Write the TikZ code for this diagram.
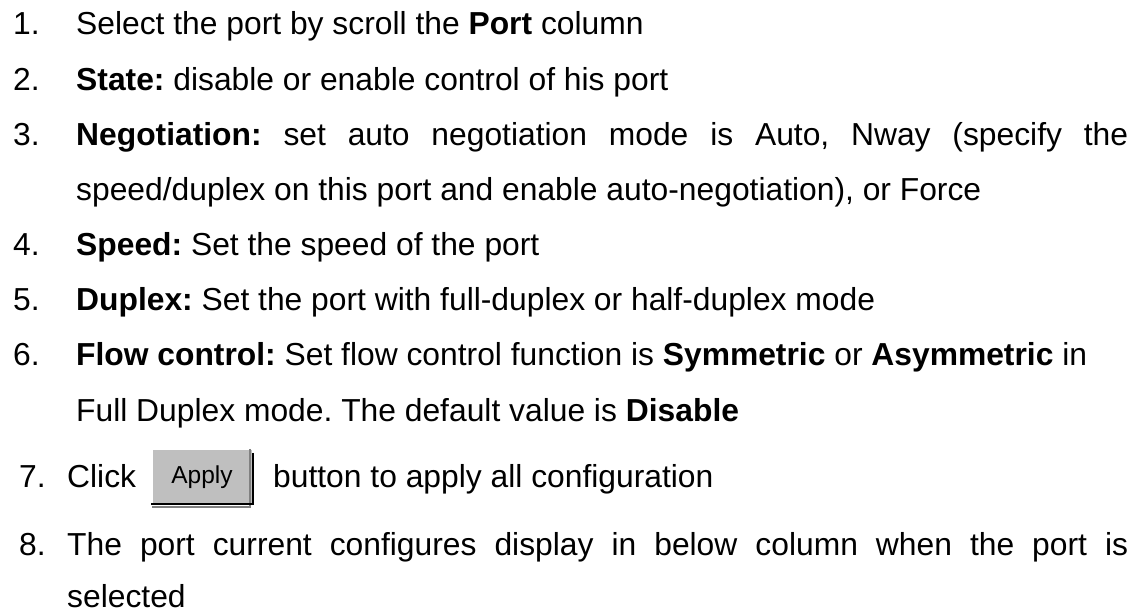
\documentclass[tikz,border=0pt]{standalone}
\usepackage{fontspec}
\setmainfont{Liberation Sans}
\frenchspacing
\begin{document}
\begin{tikzpicture}[x=1pt,y=-1pt,
  txt/.style={anchor=base west,inner sep=0pt,font=\fontsize{31.8}{38}\selectfont},
  num/.style={txt},
  btn/.style={fill=black!25,minimum width=100pt,minimum height=56pt,inner sep=0pt,
    font=\fontsize{24.5}{28}\selectfont}]
\useasboundingbox (0,0) rectangle (1141,610);
%%
\node (n1) at (13,35) [num] {1.};
\node (t1) at (76,35) [txt] {Select the port by scroll the \textbf{Port} column};
\node (n2) at (13,90) [num] {2.};
\node (t2) at (76,90) [txt] {\textbf{State:} disable or enable control of his port};
\node (n3) at (13,145) [num] {3.};
\node (t3a) at (76,145) [txt] {\makebox[1052pt][s]{\textbf{Negotiation:} set auto negotiation mode is Auto, Nway (specify the}};
\node (t3b) at (76,200) [txt] {speed/duplex on this port and enable auto-negotiation), or Force};
\node (n4) at (13,255) [num] {4.};
\node (t4) at (76,255) [txt] {\textbf{Speed:} Set the speed of the port};
\node (n5) at (13,310) [num] {5.};
\node (t5) at (76,310) [txt] {\textbf{Duplex:} Set the port with full-duplex or half-duplex mode};
\node (n6) at (13,365) [num] {6.};
\node (t6a) at (76,365) [txt] {\textbf{Flow control:} Set flow control function is \textbf{Symmetric} or \textbf{Asymmetric} in};
\node (t6b) at (76,421) [txt] {Full Duplex mode. The default value is \textbf{Disable}};
%
\node (n7) at (19,487) [num] {7.};
\node (t7a) at (67,487) [txt] {Click};
\node (apply) at (202,477) [btn] {Apply};
\draw [white,line width=1.5pt] (apply.south west) -- (apply.north west) -- (apply.north east);
\draw [black!50,line width=1.5pt] ([xshift=-2pt]apply.north east) -- ([xshift=-2pt,yshift=-2pt]apply.south east) -- ([yshift=-2pt]apply.south west);
\draw [black,line width=2pt] ([xshift=1pt,yshift=-4pt]apply.north east) -- ([xshift=1pt,yshift=1pt]apply.south east) -- ([xshift=-1pt,yshift=1pt]apply.south west);
\node (t7b) at (273,487) [txt] {button to apply all configuration};
%
\node (n8) at (19,555) [num] {8.};
\node (t8a) at (67,555) [txt] {\makebox[1061pt][s]{The port current configures display in below column when the port is}};
\node (t8b) at (67,607) [txt] {selected};
%
\end{tikzpicture}
\end{document}
